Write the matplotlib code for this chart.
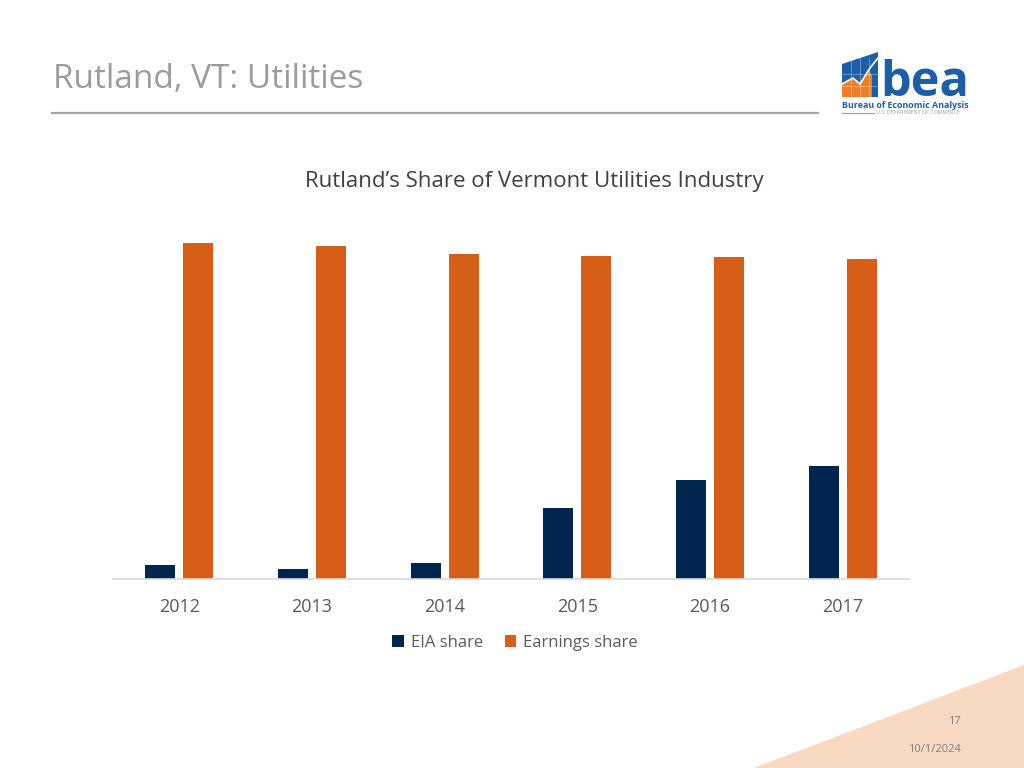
import numpy as np
import matplotlib.pyplot as plt
from matplotlib.patches import Polygon

plt.rcParams["font.family"] = ["Open Sans", "DejaVu Sans"]

YEARS = ["2012", "2013", "2014", "2015", "2016", "2017"]
EIA_SHARE = [1.4, 1.0, 1.6, 7.1, 9.9, 11.3]
EARNINGS_SHARE = [33.6, 33.3, 32.5, 32.3, 32.2, 32.0]

NAVY = "#00264F"
ORANGE = "#D65F17"
W, H = 1024, 768


def px(x, y):
    return x / W, 1 - y / H


fig = plt.figure(figsize=(10.24, 7.68), dpi=100)

# slide decorations
fig.text(*px(53, 80), "Rutland, VT: Utilities", fontsize=24, color="#9b9b9b",
         va="center", ha="left")
fig.add_artist(plt.Line2D([52 / W, 818 / W], [1 - 113 / H] * 2, color="#a6a6a6", lw=1.6))
fig.add_artist(Polygon([px(754, 768), px(1024, 665), px(1024, 768)], closed=True,
                       transform=fig.transFigure, color="#fad9c3", lw=0))
fig.text(*px(961, 721), "17", fontsize=8, color="#7f7f7f", ha="right", va="center")
fig.text(*px(961, 750), "10/1/2024", fontsize=8, color="#7f7f7f", ha="right", va="center")

# logo (approximate)
blue = "#1c5ea8"
fig.add_artist(Polygon([px(842, 64), px(878, 52), px(878, 97), px(842, 97)], closed=True,
                       transform=fig.transFigure, color=blue, lw=0))
fig.add_artist(Polygon([px(842, 97), px(842, 84), px(853, 78), px(860, 84), px(868, 70),
                        px(872, 75), px(872, 97)], closed=True,
                       transform=fig.transFigure, color="#ef7d22", lw=0))
for gx in [851, 860, 869]:
    fig.add_artist(plt.Line2D([gx / W] * 2, [1 - 97 / H, 1 - 58 / H], color="white",
                              lw=0.4, alpha=0.6))
for gy in [74, 86]:
    fig.add_artist(plt.Line2D([842 / W, 878 / W], [1 - gy / H] * 2, color="white",
                              lw=0.4, alpha=0.6))
fig.add_artist(plt.Line2D([842 / W, 853 / W, 860 / W, 870 / W, 878 / W],
                          [1 - 84 / H, 1 - 78 / H, 1 - 84 / H, 1 - 68 / H, 1 - 58 / H],
                          color="white", lw=1.2))
fig.text(*px(880, 96), "bea", fontsize=35, fontweight="bold", color=blue,
         ha="left", va="baseline")
fig.text(*px(842, 105), "Bureau of Economic Analysis", fontsize=6.4, fontweight="bold",
         color=blue, ha="left", va="center")
fig.add_artist(plt.Line2D([842 / W, 874 / W], [1 - 113 / H] * 2, color="#9b9b9b", lw=0.8))
fig.text(*px(876, 113), "U.S. DEPARTMENT OF COMMERCE", fontsize=3.8, color="#9b9b9b",
         ha="left", va="center")

# chart
ax = fig.add_axes([113 / W, 1 - 579 / H, 796 / W, 360 / H])
x = np.arange(len(YEARS))
w = 0.226
ax.bar(x - 0.143, EIA_SHARE, w, color=NAVY, label="EIA share")
ax.bar(x + 0.143, EARNINGS_SHARE, w, color=ORANGE, label="Earnings share")
ax.set_xlim(-0.5, len(YEARS) - 0.5)
ax.set_ylim(0, 36)
ax.set_yticks([])
ax.set_xticks(x)
ax.set_xticklabels(YEARS, fontsize=13, color="#595959")
ax.tick_params(axis="x", length=0, pad=14)
for s in ["top", "right", "left"]:
    ax.spines[s].set_visible(False)
ax.spines["bottom"].set_color("#d9d9d9")
ax.spines["bottom"].set_linewidth(1.2)

fig.text(*px(534, 181), "Rutland\u2019s Share of Vermont Utilities Industry", fontsize=16,
         color="#404040", ha="center", va="center")

fig.legend(loc="center", bbox_to_anchor=px(515, 643), ncol=2, frameon=False,
           fontsize=12, labelcolor="#595959", handlelength=0.7, handleheight=0.7,
           handletextpad=0.4, columnspacing=1.3)

fig.savefig("out.png", dpi=100)
